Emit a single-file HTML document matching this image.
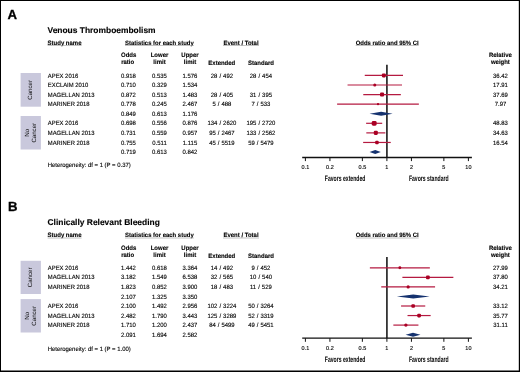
<!DOCTYPE html>
<html><head><meta charset="utf-8"><style>
html,body{margin:0;padding:0;background:#fff;}
body{width:520px;height:372px;overflow:hidden;}
svg{display:block;font-family:"Liberation Sans",sans-serif;text-rendering:geometricPrecision;will-change:transform;filter:blur(0.35px);}
</style></head><body>
<svg width="520" height="372" viewBox="0 0 520 372">
<rect width="520" height="372" fill="#fff"/>
<text x="7.50" y="18.90" font-size="13.20" font-weight="bold" text-anchor="start" fill="#000" stroke="#000" stroke-width="0.3">A</text>
<text x="47.50" y="32.80" font-size="8.43" font-weight="bold" text-anchor="start" fill="#000" stroke="#000" stroke-width="0.12" >Venous Thromboembolism</text>
<text x="47.60" y="44.50" font-size="6.30" font-weight="bold" text-anchor="start" fill="#000" stroke="#000" stroke-width="0.12" transform="translate(47.60 0) scale(0.95 1) translate(-47.60 0)" >Study name</text>
<text x="159.40" y="44.50" font-size="6.25" font-weight="bold" text-anchor="middle" fill="#000" stroke="#000" stroke-width="0.12" transform="translate(159.40 0) scale(0.95 1) translate(-159.40 0)" >Statistics for each study</text>
<text x="241.00" y="44.50" font-size="6.30" font-weight="bold" text-anchor="middle" fill="#000" stroke="#000" stroke-width="0.12" transform="translate(241.00 0) scale(0.95 1) translate(-241.00 0)" >Event / Total</text>
<text x="387.20" y="44.50" font-size="6.25" font-weight="bold" text-anchor="middle" fill="#000" stroke="#000" stroke-width="0.12" transform="translate(387.20 0) scale(0.95 1) translate(-387.20 0)" >Odds ratio and 95% CI</text>
<rect x="47.60" y="45.40" width="34.00" height="0.60" fill="#999"/>
<rect x="125.00" y="45.40" width="68.80" height="0.60" fill="#999"/>
<rect x="223.00" y="45.40" width="36.00" height="0.60" fill="#999"/>
<rect x="355.70" y="45.40" width="63.00" height="0.60" fill="#999"/>
<text x="121.00" y="56.80" font-size="6.30" font-weight="bold" text-anchor="start" fill="#000" stroke="#000" stroke-width="0.12" transform="translate(121.00 0) scale(0.95 1) translate(-121.00 0)" >Odds</text>
<text x="121.20" y="63.80" font-size="6.30" font-weight="bold" text-anchor="start" fill="#000" stroke="#000" stroke-width="0.12" transform="translate(121.20 0) scale(0.95 1) translate(-121.20 0)" >ratio</text>
<text x="159.50" y="56.80" font-size="6.30" font-weight="bold" text-anchor="middle" fill="#000" stroke="#000" stroke-width="0.12" transform="translate(159.50 0) scale(0.95 1) translate(-159.50 0)" >Lower</text>
<text x="159.50" y="63.80" font-size="6.30" font-weight="bold" text-anchor="middle" fill="#000" stroke="#000" stroke-width="0.12" transform="translate(159.50 0) scale(0.95 1) translate(-159.50 0)" >limit</text>
<text x="190.00" y="56.80" font-size="6.30" font-weight="bold" text-anchor="middle" fill="#000" stroke="#000" stroke-width="0.12" transform="translate(190.00 0) scale(0.95 1) translate(-190.00 0)" >Upper</text>
<text x="190.00" y="63.80" font-size="6.30" font-weight="bold" text-anchor="middle" fill="#000" stroke="#000" stroke-width="0.12" transform="translate(190.00 0) scale(0.95 1) translate(-190.00 0)" >limit</text>
<text x="500.40" y="56.80" font-size="6.30" font-weight="bold" text-anchor="middle" fill="#000" stroke="#000" stroke-width="0.12" transform="translate(500.40 0) scale(0.95 1) translate(-500.40 0)" >Relative</text>
<text x="500.40" y="63.80" font-size="6.30" font-weight="bold" text-anchor="middle" fill="#000" stroke="#000" stroke-width="0.12" transform="translate(500.40 0) scale(0.95 1) translate(-500.40 0)" >weight</text>
<text x="221.80" y="64.70" font-size="6.30" font-weight="bold" text-anchor="middle" fill="#000" stroke="#000" stroke-width="0.12" transform="translate(221.80 0) scale(0.95 1) translate(-221.80 0)" >Extended</text>
<text x="261.00" y="64.70" font-size="6.30" font-weight="bold" text-anchor="middle" fill="#000" stroke="#000" stroke-width="0.12" transform="translate(261.00 0) scale(0.95 1) translate(-261.00 0)" >Standard</text>
<rect x="20.60" y="73.00" width="20.30" height="33.70" fill="#c9c8dc"/>
<text x="32.00" y="89.85" font-size="6.1" text-anchor="middle" fill="#111" transform="rotate(-90 32.00 89.85)">Cancer</text>
<rect x="20.60" y="116.00" width="20.30" height="33.50" fill="#c9c8dc"/>
<text x="29.00" y="132.75" font-size="6.1" text-anchor="middle" fill="#111" transform="rotate(-90 29.00 132.75)">No</text>
<text x="35.80" y="132.75" font-size="6.1" text-anchor="middle" fill="#111" transform="rotate(-90 35.80 132.75)">Cancer</text>
<line x1="386.90" y1="64.70" x2="386.90" y2="157.50" stroke="#333" stroke-width="1.8"/>
<line x1="302.20" y1="157.50" x2="471.90" y2="157.50" stroke="#111" stroke-width="1.3"/>
<line x1="305.40" y1="157.50" x2="305.40" y2="161.10" stroke="#111" stroke-width="1"/>
<text x="305.40" y="169.30" font-size="5.78" font-weight="normal" text-anchor="middle" fill="#000" stroke="#000" stroke-width="0.12" transform="translate(305.40 0) scale(0.95 1) translate(-305.40 0)" >0.1</text>
<line x1="329.93" y1="157.50" x2="329.93" y2="161.10" stroke="#111" stroke-width="1"/>
<text x="329.93" y="169.30" font-size="5.78" font-weight="normal" text-anchor="middle" fill="#000" stroke="#000" stroke-width="0.12" transform="translate(329.93 0) scale(0.95 1) translate(-329.93 0)" >0.2</text>
<line x1="362.37" y1="157.50" x2="362.37" y2="161.10" stroke="#111" stroke-width="1"/>
<text x="362.37" y="169.30" font-size="5.78" font-weight="normal" text-anchor="middle" fill="#000" stroke="#000" stroke-width="0.12" transform="translate(362.37 0) scale(0.95 1) translate(-362.37 0)" >0.5</text>
<line x1="386.90" y1="157.50" x2="386.90" y2="161.10" stroke="#111" stroke-width="1"/>
<text x="386.90" y="169.30" font-size="5.78" font-weight="normal" text-anchor="middle" fill="#000" stroke="#000" stroke-width="0.12" transform="translate(386.90 0) scale(0.95 1) translate(-386.90 0)" >1</text>
<line x1="411.43" y1="157.50" x2="411.43" y2="161.10" stroke="#111" stroke-width="1"/>
<text x="411.43" y="169.30" font-size="5.78" font-weight="normal" text-anchor="middle" fill="#000" stroke="#000" stroke-width="0.12" transform="translate(411.43 0) scale(0.95 1) translate(-411.43 0)" >2</text>
<line x1="443.87" y1="157.50" x2="443.87" y2="161.10" stroke="#111" stroke-width="1"/>
<text x="443.87" y="169.30" font-size="5.78" font-weight="normal" text-anchor="middle" fill="#000" stroke="#000" stroke-width="0.12" transform="translate(443.87 0) scale(0.95 1) translate(-443.87 0)" >5</text>
<line x1="468.40" y1="157.50" x2="468.40" y2="161.10" stroke="#111" stroke-width="1"/>
<text x="468.40" y="169.30" font-size="5.78" font-weight="normal" text-anchor="middle" fill="#000" stroke="#000" stroke-width="0.12" transform="translate(468.40 0) scale(0.95 1) translate(-468.40 0)" >10</text>
<text x="324.8" y="180.80" font-size="7.9" font-weight="bold" fill="#000" transform="translate(324.8 0) scale(0.647 1) translate(-324.8 0)">Favors extended</text>
<text x="408.9" y="180.80" font-size="7.9" font-weight="bold" fill="#000" transform="translate(408.9 0) scale(0.647 1) translate(-408.9 0)">Favors standard</text>
<line x1="364.76" y1="75.40" x2="403.00" y2="75.40" stroke="#b51a40" stroke-width="1.2"/>
<rect x="381.87" y="73.40" width="4.00" height="4.00" rx="1.12" fill="#aa0024"/>
<line x1="347.55" y1="84.98" x2="402.04" y2="84.98" stroke="#b51a40" stroke-width="1.2"/>
<rect x="373.23" y="83.43" width="3.10" height="3.10" rx="1.55" fill="#aa0024"/>
<line x1="363.27" y1="94.56" x2="400.85" y2="94.56" stroke="#b51a40" stroke-width="1.2"/>
<rect x="380.00" y="92.51" width="4.10" height="4.10" rx="1.15" fill="#aa0024"/>
<line x1="337.12" y1="104.14" x2="418.86" y2="104.14" stroke="#b51a40" stroke-width="1.2"/>
<rect x="376.86" y="102.99" width="2.30" height="2.30" rx="1.15" fill="#aa0024"/>
<polygon points="369.58,113.72 381.11,111.72 392.64,113.72 381.11,115.72" fill="#15326f"/>
<line x1="366.12" y1="123.30" x2="382.21" y2="123.30" stroke="#b51a40" stroke-width="1.2"/>
<rect x="371.77" y="120.90" width="4.80" height="4.80" rx="1.34" fill="#aa0024"/>
<line x1="366.31" y1="132.88" x2="385.34" y2="132.88" stroke="#b51a40" stroke-width="1.2"/>
<rect x="373.76" y="130.83" width="4.10" height="4.10" rx="1.15" fill="#aa0024"/>
<line x1="363.14" y1="142.46" x2="390.75" y2="142.46" stroke="#b51a40" stroke-width="1.2"/>
<rect x="375.20" y="140.71" width="3.50" height="3.50" rx="0.98" fill="#aa0024"/>
<polygon points="369.58,152.04 375.22,150.04 380.81,152.04 375.22,154.04" fill="#15326f"/>
<text x="47.80" y="77.50" font-size="6.20" font-weight="normal" text-anchor="start" fill="#000" stroke="#000" stroke-width="0.12" transform="translate(47.80 0) scale(0.95 1) translate(-47.80 0)" >APEX 2016</text>
<text x="128.50" y="77.50" font-size="6.25" font-weight="normal" text-anchor="middle" fill="#000" stroke="#000" stroke-width="0.12" transform="translate(128.50 0) scale(0.95 1) translate(-128.50 0)" >0.918</text>
<text x="159.50" y="77.50" font-size="6.25" font-weight="normal" text-anchor="middle" fill="#000" stroke="#000" stroke-width="0.12" transform="translate(159.50 0) scale(0.95 1) translate(-159.50 0)" >0.535</text>
<text x="190.00" y="77.50" font-size="6.25" font-weight="normal" text-anchor="middle" fill="#000" stroke="#000" stroke-width="0.12" transform="translate(190.00 0) scale(0.95 1) translate(-190.00 0)" >1.576</text>
<text x="221.90" y="77.50" font-size="6.25" font-weight="normal" text-anchor="middle" fill="#000" stroke="#000" stroke-width="0.12" transform="translate(221.90 0) scale(0.95 1) translate(-221.90 0)" word-spacing="0.4">28 / 492</text>
<text x="260.90" y="77.50" font-size="6.25" font-weight="normal" text-anchor="middle" fill="#000" stroke="#000" stroke-width="0.12" transform="translate(260.90 0) scale(0.95 1) translate(-260.90 0)" word-spacing="0.4">28 / 454</text>
<text x="500.50" y="77.50" font-size="6.25" font-weight="normal" text-anchor="middle" fill="#000" stroke="#000" stroke-width="0.12" transform="translate(500.50 0) scale(0.95 1) translate(-500.50 0)" >36.42</text>
<text x="47.80" y="87.08" font-size="6.20" font-weight="normal" text-anchor="start" fill="#000" stroke="#000" stroke-width="0.12" transform="translate(47.80 0) scale(0.95 1) translate(-47.80 0)" >EXCLAIM 2010</text>
<text x="128.50" y="87.08" font-size="6.25" font-weight="normal" text-anchor="middle" fill="#000" stroke="#000" stroke-width="0.12" transform="translate(128.50 0) scale(0.95 1) translate(-128.50 0)" >0.710</text>
<text x="159.50" y="87.08" font-size="6.25" font-weight="normal" text-anchor="middle" fill="#000" stroke="#000" stroke-width="0.12" transform="translate(159.50 0) scale(0.95 1) translate(-159.50 0)" >0.329</text>
<text x="190.00" y="87.08" font-size="6.25" font-weight="normal" text-anchor="middle" fill="#000" stroke="#000" stroke-width="0.12" transform="translate(190.00 0) scale(0.95 1) translate(-190.00 0)" >1.534</text>
<text x="500.50" y="87.08" font-size="6.25" font-weight="normal" text-anchor="middle" fill="#000" stroke="#000" stroke-width="0.12" transform="translate(500.50 0) scale(0.95 1) translate(-500.50 0)" >17.91</text>
<text x="47.80" y="96.66" font-size="6.20" font-weight="normal" text-anchor="start" fill="#000" stroke="#000" stroke-width="0.12" transform="translate(47.80 0) scale(0.95 1) translate(-47.80 0)" >MAGELLAN 2013</text>
<text x="128.50" y="96.66" font-size="6.25" font-weight="normal" text-anchor="middle" fill="#000" stroke="#000" stroke-width="0.12" transform="translate(128.50 0) scale(0.95 1) translate(-128.50 0)" >0.872</text>
<text x="159.50" y="96.66" font-size="6.25" font-weight="normal" text-anchor="middle" fill="#000" stroke="#000" stroke-width="0.12" transform="translate(159.50 0) scale(0.95 1) translate(-159.50 0)" >0.513</text>
<text x="190.00" y="96.66" font-size="6.25" font-weight="normal" text-anchor="middle" fill="#000" stroke="#000" stroke-width="0.12" transform="translate(190.00 0) scale(0.95 1) translate(-190.00 0)" >1.483</text>
<text x="221.90" y="96.66" font-size="6.25" font-weight="normal" text-anchor="middle" fill="#000" stroke="#000" stroke-width="0.12" transform="translate(221.90 0) scale(0.95 1) translate(-221.90 0)" word-spacing="0.4">28 / 405</text>
<text x="260.90" y="96.66" font-size="6.25" font-weight="normal" text-anchor="middle" fill="#000" stroke="#000" stroke-width="0.12" transform="translate(260.90 0) scale(0.95 1) translate(-260.90 0)" word-spacing="0.4">31 / 395</text>
<text x="500.50" y="96.66" font-size="6.25" font-weight="normal" text-anchor="middle" fill="#000" stroke="#000" stroke-width="0.12" transform="translate(500.50 0) scale(0.95 1) translate(-500.50 0)" >37.69</text>
<text x="47.80" y="106.24" font-size="6.20" font-weight="normal" text-anchor="start" fill="#000" stroke="#000" stroke-width="0.12" transform="translate(47.80 0) scale(0.95 1) translate(-47.80 0)" >MARINER 2018</text>
<text x="128.50" y="106.24" font-size="6.25" font-weight="normal" text-anchor="middle" fill="#000" stroke="#000" stroke-width="0.12" transform="translate(128.50 0) scale(0.95 1) translate(-128.50 0)" >0.778</text>
<text x="159.50" y="106.24" font-size="6.25" font-weight="normal" text-anchor="middle" fill="#000" stroke="#000" stroke-width="0.12" transform="translate(159.50 0) scale(0.95 1) translate(-159.50 0)" >0.245</text>
<text x="190.00" y="106.24" font-size="6.25" font-weight="normal" text-anchor="middle" fill="#000" stroke="#000" stroke-width="0.12" transform="translate(190.00 0) scale(0.95 1) translate(-190.00 0)" >2.467</text>
<text x="221.90" y="106.24" font-size="6.25" font-weight="normal" text-anchor="middle" fill="#000" stroke="#000" stroke-width="0.12" transform="translate(221.90 0) scale(0.95 1) translate(-221.90 0)" word-spacing="0.4">5 / 488</text>
<text x="260.90" y="106.24" font-size="6.25" font-weight="normal" text-anchor="middle" fill="#000" stroke="#000" stroke-width="0.12" transform="translate(260.90 0) scale(0.95 1) translate(-260.90 0)" word-spacing="0.4">7 / 533</text>
<text x="500.50" y="106.24" font-size="6.25" font-weight="normal" text-anchor="middle" fill="#000" stroke="#000" stroke-width="0.12" transform="translate(500.50 0) scale(0.95 1) translate(-500.50 0)" >7.97</text>
<text x="128.50" y="115.82" font-size="6.25" font-weight="normal" text-anchor="middle" fill="#000" stroke="#000" stroke-width="0.12" transform="translate(128.50 0) scale(0.95 1) translate(-128.50 0)" >0.849</text>
<text x="159.50" y="115.82" font-size="6.25" font-weight="normal" text-anchor="middle" fill="#000" stroke="#000" stroke-width="0.12" transform="translate(159.50 0) scale(0.95 1) translate(-159.50 0)" >0.613</text>
<text x="190.00" y="115.82" font-size="6.25" font-weight="normal" text-anchor="middle" fill="#000" stroke="#000" stroke-width="0.12" transform="translate(190.00 0) scale(0.95 1) translate(-190.00 0)" >1.176</text>
<text x="47.80" y="125.40" font-size="6.20" font-weight="normal" text-anchor="start" fill="#000" stroke="#000" stroke-width="0.12" transform="translate(47.80 0) scale(0.95 1) translate(-47.80 0)" >APEX 2016</text>
<text x="128.50" y="125.40" font-size="6.25" font-weight="normal" text-anchor="middle" fill="#000" stroke="#000" stroke-width="0.12" transform="translate(128.50 0) scale(0.95 1) translate(-128.50 0)" >0.698</text>
<text x="159.50" y="125.40" font-size="6.25" font-weight="normal" text-anchor="middle" fill="#000" stroke="#000" stroke-width="0.12" transform="translate(159.50 0) scale(0.95 1) translate(-159.50 0)" >0.556</text>
<text x="190.00" y="125.40" font-size="6.25" font-weight="normal" text-anchor="middle" fill="#000" stroke="#000" stroke-width="0.12" transform="translate(190.00 0) scale(0.95 1) translate(-190.00 0)" >0.876</text>
<text x="221.90" y="125.40" font-size="6.25" font-weight="normal" text-anchor="middle" fill="#000" stroke="#000" stroke-width="0.12" transform="translate(221.90 0) scale(0.95 1) translate(-221.90 0)" word-spacing="0.4">134 / 2620</text>
<text x="260.90" y="125.40" font-size="6.25" font-weight="normal" text-anchor="middle" fill="#000" stroke="#000" stroke-width="0.12" transform="translate(260.90 0) scale(0.95 1) translate(-260.90 0)" word-spacing="0.4">195 / 2720</text>
<text x="500.50" y="125.40" font-size="6.25" font-weight="normal" text-anchor="middle" fill="#000" stroke="#000" stroke-width="0.12" transform="translate(500.50 0) scale(0.95 1) translate(-500.50 0)" >48.83</text>
<text x="47.80" y="134.98" font-size="6.20" font-weight="normal" text-anchor="start" fill="#000" stroke="#000" stroke-width="0.12" transform="translate(47.80 0) scale(0.95 1) translate(-47.80 0)" >MAGELLAN 2013</text>
<text x="128.50" y="134.98" font-size="6.25" font-weight="normal" text-anchor="middle" fill="#000" stroke="#000" stroke-width="0.12" transform="translate(128.50 0) scale(0.95 1) translate(-128.50 0)" >0.731</text>
<text x="159.50" y="134.98" font-size="6.25" font-weight="normal" text-anchor="middle" fill="#000" stroke="#000" stroke-width="0.12" transform="translate(159.50 0) scale(0.95 1) translate(-159.50 0)" >0.559</text>
<text x="190.00" y="134.98" font-size="6.25" font-weight="normal" text-anchor="middle" fill="#000" stroke="#000" stroke-width="0.12" transform="translate(190.00 0) scale(0.95 1) translate(-190.00 0)" >0.957</text>
<text x="221.90" y="134.98" font-size="6.25" font-weight="normal" text-anchor="middle" fill="#000" stroke="#000" stroke-width="0.12" transform="translate(221.90 0) scale(0.95 1) translate(-221.90 0)" word-spacing="0.4">95 / 2467</text>
<text x="260.90" y="134.98" font-size="6.25" font-weight="normal" text-anchor="middle" fill="#000" stroke="#000" stroke-width="0.12" transform="translate(260.90 0) scale(0.95 1) translate(-260.90 0)" word-spacing="0.4">133 / 2562</text>
<text x="500.50" y="134.98" font-size="6.25" font-weight="normal" text-anchor="middle" fill="#000" stroke="#000" stroke-width="0.12" transform="translate(500.50 0) scale(0.95 1) translate(-500.50 0)" >34.63</text>
<text x="47.80" y="144.56" font-size="6.20" font-weight="normal" text-anchor="start" fill="#000" stroke="#000" stroke-width="0.12" transform="translate(47.80 0) scale(0.95 1) translate(-47.80 0)" >MARINER 2018</text>
<text x="128.50" y="144.56" font-size="6.25" font-weight="normal" text-anchor="middle" fill="#000" stroke="#000" stroke-width="0.12" transform="translate(128.50 0) scale(0.95 1) translate(-128.50 0)" >0.755</text>
<text x="159.50" y="144.56" font-size="6.25" font-weight="normal" text-anchor="middle" fill="#000" stroke="#000" stroke-width="0.12" transform="translate(159.50 0) scale(0.95 1) translate(-159.50 0)" >0.511</text>
<text x="190.00" y="144.56" font-size="6.25" font-weight="normal" text-anchor="middle" fill="#000" stroke="#000" stroke-width="0.12" transform="translate(190.00 0) scale(0.95 1) translate(-190.00 0)" >1.115</text>
<text x="221.90" y="144.56" font-size="6.25" font-weight="normal" text-anchor="middle" fill="#000" stroke="#000" stroke-width="0.12" transform="translate(221.90 0) scale(0.95 1) translate(-221.90 0)" word-spacing="0.4">45 / 5519</text>
<text x="260.90" y="144.56" font-size="6.25" font-weight="normal" text-anchor="middle" fill="#000" stroke="#000" stroke-width="0.12" transform="translate(260.90 0) scale(0.95 1) translate(-260.90 0)" word-spacing="0.4">59 / 5479</text>
<text x="500.50" y="144.56" font-size="6.25" font-weight="normal" text-anchor="middle" fill="#000" stroke="#000" stroke-width="0.12" transform="translate(500.50 0) scale(0.95 1) translate(-500.50 0)" >16.54</text>
<text x="128.50" y="154.14" font-size="6.25" font-weight="normal" text-anchor="middle" fill="#000" stroke="#000" stroke-width="0.12" transform="translate(128.50 0) scale(0.95 1) translate(-128.50 0)" >0.719</text>
<text x="159.50" y="154.14" font-size="6.25" font-weight="normal" text-anchor="middle" fill="#000" stroke="#000" stroke-width="0.12" transform="translate(159.50 0) scale(0.95 1) translate(-159.50 0)" >0.613</text>
<text x="190.00" y="154.14" font-size="6.25" font-weight="normal" text-anchor="middle" fill="#000" stroke="#000" stroke-width="0.12" transform="translate(190.00 0) scale(0.95 1) translate(-190.00 0)" >0.842</text>
<text x="47.70" y="167.20" font-size="6.25" font-weight="normal" text-anchor="start" fill="#000" stroke="#000" stroke-width="0.12" transform="translate(47.70 0) scale(0.95 1) translate(-47.70 0)" >Heterogeneity: df = 1 (P = 0.37)</text>
<text x="8.00" y="211.20" font-size="13.20" font-weight="bold" text-anchor="start" fill="#000" stroke="#000" stroke-width="0.3">B</text>
<text x="47.50" y="225.10" font-size="8.43" font-weight="bold" text-anchor="start" fill="#000" stroke="#000" stroke-width="0.12" >Clinically Relevant Bleeding</text>
<text x="47.60" y="236.80" font-size="6.30" font-weight="bold" text-anchor="start" fill="#000" stroke="#000" stroke-width="0.12" transform="translate(47.60 0) scale(0.95 1) translate(-47.60 0)" >Study name</text>
<text x="159.40" y="236.80" font-size="6.25" font-weight="bold" text-anchor="middle" fill="#000" stroke="#000" stroke-width="0.12" transform="translate(159.40 0) scale(0.95 1) translate(-159.40 0)" >Statistics for each study</text>
<text x="241.00" y="236.80" font-size="6.30" font-weight="bold" text-anchor="middle" fill="#000" stroke="#000" stroke-width="0.12" transform="translate(241.00 0) scale(0.95 1) translate(-241.00 0)" >Event / Total</text>
<text x="387.20" y="236.80" font-size="6.25" font-weight="bold" text-anchor="middle" fill="#000" stroke="#000" stroke-width="0.12" transform="translate(387.20 0) scale(0.95 1) translate(-387.20 0)" >Odds ratio and 95% CI</text>
<rect x="47.60" y="237.70" width="34.00" height="0.60" fill="#999"/>
<rect x="125.00" y="237.70" width="68.80" height="0.60" fill="#999"/>
<rect x="223.00" y="237.70" width="36.00" height="0.60" fill="#999"/>
<rect x="355.70" y="237.70" width="63.00" height="0.60" fill="#999"/>
<text x="121.00" y="249.70" font-size="6.30" font-weight="bold" text-anchor="start" fill="#000" stroke="#000" stroke-width="0.12" transform="translate(121.00 0) scale(0.95 1) translate(-121.00 0)" >Odds</text>
<text x="121.20" y="256.70" font-size="6.30" font-weight="bold" text-anchor="start" fill="#000" stroke="#000" stroke-width="0.12" transform="translate(121.20 0) scale(0.95 1) translate(-121.20 0)" >ratio</text>
<text x="159.50" y="249.70" font-size="6.30" font-weight="bold" text-anchor="middle" fill="#000" stroke="#000" stroke-width="0.12" transform="translate(159.50 0) scale(0.95 1) translate(-159.50 0)" >Lower</text>
<text x="159.50" y="256.70" font-size="6.30" font-weight="bold" text-anchor="middle" fill="#000" stroke="#000" stroke-width="0.12" transform="translate(159.50 0) scale(0.95 1) translate(-159.50 0)" >limit</text>
<text x="190.00" y="249.70" font-size="6.30" font-weight="bold" text-anchor="middle" fill="#000" stroke="#000" stroke-width="0.12" transform="translate(190.00 0) scale(0.95 1) translate(-190.00 0)" >Upper</text>
<text x="190.00" y="256.70" font-size="6.30" font-weight="bold" text-anchor="middle" fill="#000" stroke="#000" stroke-width="0.12" transform="translate(190.00 0) scale(0.95 1) translate(-190.00 0)" >limit</text>
<text x="500.40" y="249.70" font-size="6.30" font-weight="bold" text-anchor="middle" fill="#000" stroke="#000" stroke-width="0.12" transform="translate(500.40 0) scale(0.95 1) translate(-500.40 0)" >Relative</text>
<text x="500.40" y="256.70" font-size="6.30" font-weight="bold" text-anchor="middle" fill="#000" stroke="#000" stroke-width="0.12" transform="translate(500.40 0) scale(0.95 1) translate(-500.40 0)" >weight</text>
<text x="221.80" y="257.60" font-size="6.30" font-weight="bold" text-anchor="middle" fill="#000" stroke="#000" stroke-width="0.12" transform="translate(221.80 0) scale(0.95 1) translate(-221.80 0)" >Extended</text>
<text x="261.00" y="257.60" font-size="6.30" font-weight="bold" text-anchor="middle" fill="#000" stroke="#000" stroke-width="0.12" transform="translate(261.00 0) scale(0.95 1) translate(-261.00 0)" >Standard</text>
<rect x="20.60" y="260.80" width="20.30" height="33.20" fill="#c9c8dc"/>
<text x="32.00" y="277.40" font-size="6.1" text-anchor="middle" fill="#111" transform="rotate(-90 32.00 277.40)">Cancer</text>
<rect x="20.60" y="299.10" width="20.30" height="33.40" fill="#c9c8dc"/>
<text x="29.00" y="315.80" font-size="6.1" text-anchor="middle" fill="#111" transform="rotate(-90 29.00 315.80)">No</text>
<text x="35.80" y="315.80" font-size="6.1" text-anchor="middle" fill="#111" transform="rotate(-90 35.80 315.80)">Cancer</text>
<line x1="386.90" y1="257.00" x2="386.90" y2="338.20" stroke="#333" stroke-width="1.8"/>
<line x1="302.20" y1="338.20" x2="471.90" y2="338.20" stroke="#111" stroke-width="1.3"/>
<line x1="305.40" y1="338.20" x2="305.40" y2="341.80" stroke="#111" stroke-width="1"/>
<text x="305.40" y="350.00" font-size="5.78" font-weight="normal" text-anchor="middle" fill="#000" stroke="#000" stroke-width="0.12" transform="translate(305.40 0) scale(0.95 1) translate(-305.40 0)" >0.1</text>
<line x1="329.93" y1="338.20" x2="329.93" y2="341.80" stroke="#111" stroke-width="1"/>
<text x="329.93" y="350.00" font-size="5.78" font-weight="normal" text-anchor="middle" fill="#000" stroke="#000" stroke-width="0.12" transform="translate(329.93 0) scale(0.95 1) translate(-329.93 0)" >0.2</text>
<line x1="362.37" y1="338.20" x2="362.37" y2="341.80" stroke="#111" stroke-width="1"/>
<text x="362.37" y="350.00" font-size="5.78" font-weight="normal" text-anchor="middle" fill="#000" stroke="#000" stroke-width="0.12" transform="translate(362.37 0) scale(0.95 1) translate(-362.37 0)" >0.5</text>
<line x1="386.90" y1="338.20" x2="386.90" y2="341.80" stroke="#111" stroke-width="1"/>
<text x="386.90" y="350.00" font-size="5.78" font-weight="normal" text-anchor="middle" fill="#000" stroke="#000" stroke-width="0.12" transform="translate(386.90 0) scale(0.95 1) translate(-386.90 0)" >1</text>
<line x1="411.43" y1="338.20" x2="411.43" y2="341.80" stroke="#111" stroke-width="1"/>
<text x="411.43" y="350.00" font-size="5.78" font-weight="normal" text-anchor="middle" fill="#000" stroke="#000" stroke-width="0.12" transform="translate(411.43 0) scale(0.95 1) translate(-411.43 0)" >2</text>
<line x1="443.87" y1="338.20" x2="443.87" y2="341.80" stroke="#111" stroke-width="1"/>
<text x="443.87" y="350.00" font-size="5.78" font-weight="normal" text-anchor="middle" fill="#000" stroke="#000" stroke-width="0.12" transform="translate(443.87 0) scale(0.95 1) translate(-443.87 0)" >5</text>
<line x1="468.40" y1="338.20" x2="468.40" y2="341.80" stroke="#111" stroke-width="1"/>
<text x="468.40" y="350.00" font-size="5.78" font-weight="normal" text-anchor="middle" fill="#000" stroke="#000" stroke-width="0.12" transform="translate(468.40 0) scale(0.95 1) translate(-468.40 0)" >10</text>
<text x="324.8" y="361.50" font-size="7.9" font-weight="bold" fill="#000" transform="translate(324.8 0) scale(0.647 1) translate(-324.8 0)">Favors extended</text>
<text x="408.9" y="361.50" font-size="7.9" font-weight="bold" fill="#000" transform="translate(408.9 0) scale(0.647 1) translate(-408.9 0)">Favors standard</text>
<line x1="369.87" y1="267.80" x2="429.84" y2="267.80" stroke="#b51a40" stroke-width="1.2"/>
<rect x="398.41" y="266.35" width="2.90" height="2.90" rx="1.45" fill="#aa0024"/>
<line x1="402.39" y1="277.35" x2="453.36" y2="277.35" stroke="#b51a40" stroke-width="1.2"/>
<rect x="426.02" y="275.50" width="3.70" height="3.70" rx="1.04" fill="#aa0024"/>
<line x1="381.23" y1="286.90" x2="435.07" y2="286.90" stroke="#b51a40" stroke-width="1.2"/>
<rect x="406.55" y="285.30" width="3.20" height="3.20" rx="1.60" fill="#aa0024"/>
<polygon points="396.86,296.45 413.28,294.45 429.69,296.45 413.28,298.45" fill="#15326f"/>
<line x1="401.06" y1="306.00" x2="425.26" y2="306.00" stroke="#b51a40" stroke-width="1.2"/>
<rect x="411.36" y="304.20" width="3.60" height="3.60" rx="1.01" fill="#aa0024"/>
<line x1="407.51" y1="315.55" x2="430.66" y2="315.55" stroke="#b51a40" stroke-width="1.2"/>
<rect x="417.23" y="313.70" width="3.70" height="3.70" rx="1.04" fill="#aa0024"/>
<line x1="393.35" y1="325.10" x2="418.43" y2="325.10" stroke="#b51a40" stroke-width="1.2"/>
<rect x="404.19" y="323.40" width="3.40" height="3.40" rx="1.70" fill="#aa0024"/>
<polygon points="405.56,334.65 413.01,332.65 420.47,334.65 413.01,336.65" fill="#15326f"/>
<text x="47.80" y="269.90" font-size="6.20" font-weight="normal" text-anchor="start" fill="#000" stroke="#000" stroke-width="0.12" transform="translate(47.80 0) scale(0.95 1) translate(-47.80 0)" >APEX 2016</text>
<text x="128.50" y="269.90" font-size="6.25" font-weight="normal" text-anchor="middle" fill="#000" stroke="#000" stroke-width="0.12" transform="translate(128.50 0) scale(0.95 1) translate(-128.50 0)" >1.442</text>
<text x="159.50" y="269.90" font-size="6.25" font-weight="normal" text-anchor="middle" fill="#000" stroke="#000" stroke-width="0.12" transform="translate(159.50 0) scale(0.95 1) translate(-159.50 0)" >0.618</text>
<text x="190.00" y="269.90" font-size="6.25" font-weight="normal" text-anchor="middle" fill="#000" stroke="#000" stroke-width="0.12" transform="translate(190.00 0) scale(0.95 1) translate(-190.00 0)" >3.364</text>
<text x="221.90" y="269.90" font-size="6.25" font-weight="normal" text-anchor="middle" fill="#000" stroke="#000" stroke-width="0.12" transform="translate(221.90 0) scale(0.95 1) translate(-221.90 0)" word-spacing="0.4">14 / 492</text>
<text x="260.90" y="269.90" font-size="6.25" font-weight="normal" text-anchor="middle" fill="#000" stroke="#000" stroke-width="0.12" transform="translate(260.90 0) scale(0.95 1) translate(-260.90 0)" word-spacing="0.4">9 / 452</text>
<text x="500.50" y="269.90" font-size="6.25" font-weight="normal" text-anchor="middle" fill="#000" stroke="#000" stroke-width="0.12" transform="translate(500.50 0) scale(0.95 1) translate(-500.50 0)" >27.99</text>
<text x="47.80" y="279.45" font-size="6.20" font-weight="normal" text-anchor="start" fill="#000" stroke="#000" stroke-width="0.12" transform="translate(47.80 0) scale(0.95 1) translate(-47.80 0)" >MAGELLAN 2013</text>
<text x="128.50" y="279.45" font-size="6.25" font-weight="normal" text-anchor="middle" fill="#000" stroke="#000" stroke-width="0.12" transform="translate(128.50 0) scale(0.95 1) translate(-128.50 0)" >3.182</text>
<text x="159.50" y="279.45" font-size="6.25" font-weight="normal" text-anchor="middle" fill="#000" stroke="#000" stroke-width="0.12" transform="translate(159.50 0) scale(0.95 1) translate(-159.50 0)" >1.549</text>
<text x="190.00" y="279.45" font-size="6.25" font-weight="normal" text-anchor="middle" fill="#000" stroke="#000" stroke-width="0.12" transform="translate(190.00 0) scale(0.95 1) translate(-190.00 0)" >6.538</text>
<text x="221.90" y="279.45" font-size="6.25" font-weight="normal" text-anchor="middle" fill="#000" stroke="#000" stroke-width="0.12" transform="translate(221.90 0) scale(0.95 1) translate(-221.90 0)" word-spacing="0.4">32 / 565</text>
<text x="260.90" y="279.45" font-size="6.25" font-weight="normal" text-anchor="middle" fill="#000" stroke="#000" stroke-width="0.12" transform="translate(260.90 0) scale(0.95 1) translate(-260.90 0)" word-spacing="0.4">10 / 540</text>
<text x="500.50" y="279.45" font-size="6.25" font-weight="normal" text-anchor="middle" fill="#000" stroke="#000" stroke-width="0.12" transform="translate(500.50 0) scale(0.95 1) translate(-500.50 0)" >37.80</text>
<text x="47.80" y="289.00" font-size="6.20" font-weight="normal" text-anchor="start" fill="#000" stroke="#000" stroke-width="0.12" transform="translate(47.80 0) scale(0.95 1) translate(-47.80 0)" >MARINER 2018</text>
<text x="128.50" y="289.00" font-size="6.25" font-weight="normal" text-anchor="middle" fill="#000" stroke="#000" stroke-width="0.12" transform="translate(128.50 0) scale(0.95 1) translate(-128.50 0)" >1.823</text>
<text x="159.50" y="289.00" font-size="6.25" font-weight="normal" text-anchor="middle" fill="#000" stroke="#000" stroke-width="0.12" transform="translate(159.50 0) scale(0.95 1) translate(-159.50 0)" >0.852</text>
<text x="190.00" y="289.00" font-size="6.25" font-weight="normal" text-anchor="middle" fill="#000" stroke="#000" stroke-width="0.12" transform="translate(190.00 0) scale(0.95 1) translate(-190.00 0)" >3.900</text>
<text x="221.90" y="289.00" font-size="6.25" font-weight="normal" text-anchor="middle" fill="#000" stroke="#000" stroke-width="0.12" transform="translate(221.90 0) scale(0.95 1) translate(-221.90 0)" word-spacing="0.4">18 / 483</text>
<text x="260.90" y="289.00" font-size="6.25" font-weight="normal" text-anchor="middle" fill="#000" stroke="#000" stroke-width="0.12" transform="translate(260.90 0) scale(0.95 1) translate(-260.90 0)" word-spacing="0.4">11 / 529</text>
<text x="500.50" y="289.00" font-size="6.25" font-weight="normal" text-anchor="middle" fill="#000" stroke="#000" stroke-width="0.12" transform="translate(500.50 0) scale(0.95 1) translate(-500.50 0)" >34.21</text>
<text x="128.50" y="298.55" font-size="6.25" font-weight="normal" text-anchor="middle" fill="#000" stroke="#000" stroke-width="0.12" transform="translate(128.50 0) scale(0.95 1) translate(-128.50 0)" >2.107</text>
<text x="159.50" y="298.55" font-size="6.25" font-weight="normal" text-anchor="middle" fill="#000" stroke="#000" stroke-width="0.12" transform="translate(159.50 0) scale(0.95 1) translate(-159.50 0)" >1.325</text>
<text x="190.00" y="298.55" font-size="6.25" font-weight="normal" text-anchor="middle" fill="#000" stroke="#000" stroke-width="0.12" transform="translate(190.00 0) scale(0.95 1) translate(-190.00 0)" >3.350</text>
<text x="47.80" y="308.10" font-size="6.20" font-weight="normal" text-anchor="start" fill="#000" stroke="#000" stroke-width="0.12" transform="translate(47.80 0) scale(0.95 1) translate(-47.80 0)" >APEX 2016</text>
<text x="128.50" y="308.10" font-size="6.25" font-weight="normal" text-anchor="middle" fill="#000" stroke="#000" stroke-width="0.12" transform="translate(128.50 0) scale(0.95 1) translate(-128.50 0)" >2.100</text>
<text x="159.50" y="308.10" font-size="6.25" font-weight="normal" text-anchor="middle" fill="#000" stroke="#000" stroke-width="0.12" transform="translate(159.50 0) scale(0.95 1) translate(-159.50 0)" >1.492</text>
<text x="190.00" y="308.10" font-size="6.25" font-weight="normal" text-anchor="middle" fill="#000" stroke="#000" stroke-width="0.12" transform="translate(190.00 0) scale(0.95 1) translate(-190.00 0)" >2.956</text>
<text x="221.90" y="308.10" font-size="6.25" font-weight="normal" text-anchor="middle" fill="#000" stroke="#000" stroke-width="0.12" transform="translate(221.90 0) scale(0.95 1) translate(-221.90 0)" word-spacing="0.4">102 / 3224</text>
<text x="260.90" y="308.10" font-size="6.25" font-weight="normal" text-anchor="middle" fill="#000" stroke="#000" stroke-width="0.12" transform="translate(260.90 0) scale(0.95 1) translate(-260.90 0)" word-spacing="0.4">50 / 3264</text>
<text x="500.50" y="308.10" font-size="6.25" font-weight="normal" text-anchor="middle" fill="#000" stroke="#000" stroke-width="0.12" transform="translate(500.50 0) scale(0.95 1) translate(-500.50 0)" >33.12</text>
<text x="47.80" y="317.65" font-size="6.20" font-weight="normal" text-anchor="start" fill="#000" stroke="#000" stroke-width="0.12" transform="translate(47.80 0) scale(0.95 1) translate(-47.80 0)" >MAGELLAN 2013</text>
<text x="128.50" y="317.65" font-size="6.25" font-weight="normal" text-anchor="middle" fill="#000" stroke="#000" stroke-width="0.12" transform="translate(128.50 0) scale(0.95 1) translate(-128.50 0)" >2.482</text>
<text x="159.50" y="317.65" font-size="6.25" font-weight="normal" text-anchor="middle" fill="#000" stroke="#000" stroke-width="0.12" transform="translate(159.50 0) scale(0.95 1) translate(-159.50 0)" >1.790</text>
<text x="190.00" y="317.65" font-size="6.25" font-weight="normal" text-anchor="middle" fill="#000" stroke="#000" stroke-width="0.12" transform="translate(190.00 0) scale(0.95 1) translate(-190.00 0)" >3.443</text>
<text x="221.90" y="317.65" font-size="6.25" font-weight="normal" text-anchor="middle" fill="#000" stroke="#000" stroke-width="0.12" transform="translate(221.90 0) scale(0.95 1) translate(-221.90 0)" word-spacing="0.4">125 / 3289</text>
<text x="260.90" y="317.65" font-size="6.25" font-weight="normal" text-anchor="middle" fill="#000" stroke="#000" stroke-width="0.12" transform="translate(260.90 0) scale(0.95 1) translate(-260.90 0)" word-spacing="0.4">52 / 3319</text>
<text x="500.50" y="317.65" font-size="6.25" font-weight="normal" text-anchor="middle" fill="#000" stroke="#000" stroke-width="0.12" transform="translate(500.50 0) scale(0.95 1) translate(-500.50 0)" >35.77</text>
<text x="47.80" y="327.20" font-size="6.20" font-weight="normal" text-anchor="start" fill="#000" stroke="#000" stroke-width="0.12" transform="translate(47.80 0) scale(0.95 1) translate(-47.80 0)" >MARINER 2018</text>
<text x="128.50" y="327.20" font-size="6.25" font-weight="normal" text-anchor="middle" fill="#000" stroke="#000" stroke-width="0.12" transform="translate(128.50 0) scale(0.95 1) translate(-128.50 0)" >1.710</text>
<text x="159.50" y="327.20" font-size="6.25" font-weight="normal" text-anchor="middle" fill="#000" stroke="#000" stroke-width="0.12" transform="translate(159.50 0) scale(0.95 1) translate(-159.50 0)" >1.200</text>
<text x="190.00" y="327.20" font-size="6.25" font-weight="normal" text-anchor="middle" fill="#000" stroke="#000" stroke-width="0.12" transform="translate(190.00 0) scale(0.95 1) translate(-190.00 0)" >2.437</text>
<text x="221.90" y="327.20" font-size="6.25" font-weight="normal" text-anchor="middle" fill="#000" stroke="#000" stroke-width="0.12" transform="translate(221.90 0) scale(0.95 1) translate(-221.90 0)" word-spacing="0.4">84 / 5499</text>
<text x="260.90" y="327.20" font-size="6.25" font-weight="normal" text-anchor="middle" fill="#000" stroke="#000" stroke-width="0.12" transform="translate(260.90 0) scale(0.95 1) translate(-260.90 0)" word-spacing="0.4">49 / 5451</text>
<text x="500.50" y="327.20" font-size="6.25" font-weight="normal" text-anchor="middle" fill="#000" stroke="#000" stroke-width="0.12" transform="translate(500.50 0) scale(0.95 1) translate(-500.50 0)" >31.11</text>
<text x="128.50" y="336.75" font-size="6.25" font-weight="normal" text-anchor="middle" fill="#000" stroke="#000" stroke-width="0.12" transform="translate(128.50 0) scale(0.95 1) translate(-128.50 0)" >2.091</text>
<text x="159.50" y="336.75" font-size="6.25" font-weight="normal" text-anchor="middle" fill="#000" stroke="#000" stroke-width="0.12" transform="translate(159.50 0) scale(0.95 1) translate(-159.50 0)" >1.694</text>
<text x="190.00" y="336.75" font-size="6.25" font-weight="normal" text-anchor="middle" fill="#000" stroke="#000" stroke-width="0.12" transform="translate(190.00 0) scale(0.95 1) translate(-190.00 0)" >2.582</text>
<text x="47.70" y="350.50" font-size="6.25" font-weight="normal" text-anchor="start" fill="#000" stroke="#000" stroke-width="0.12" transform="translate(47.70 0) scale(0.95 1) translate(-47.70 0)" >Heterogeneity: df = 1 (P = 1.00)</text>
<rect x="0.00" y="0.00" width="520.00" height="1.00" fill="#000"/>
<rect x="0.00" y="0.00" width="1.00" height="372.00" fill="#000"/>
<rect x="518.80" y="0.00" width="1.20" height="372.00" fill="#000"/>
<rect x="0.00" y="370.50" width="520.00" height="1.50" fill="#000"/>
</svg>
</body></html>
